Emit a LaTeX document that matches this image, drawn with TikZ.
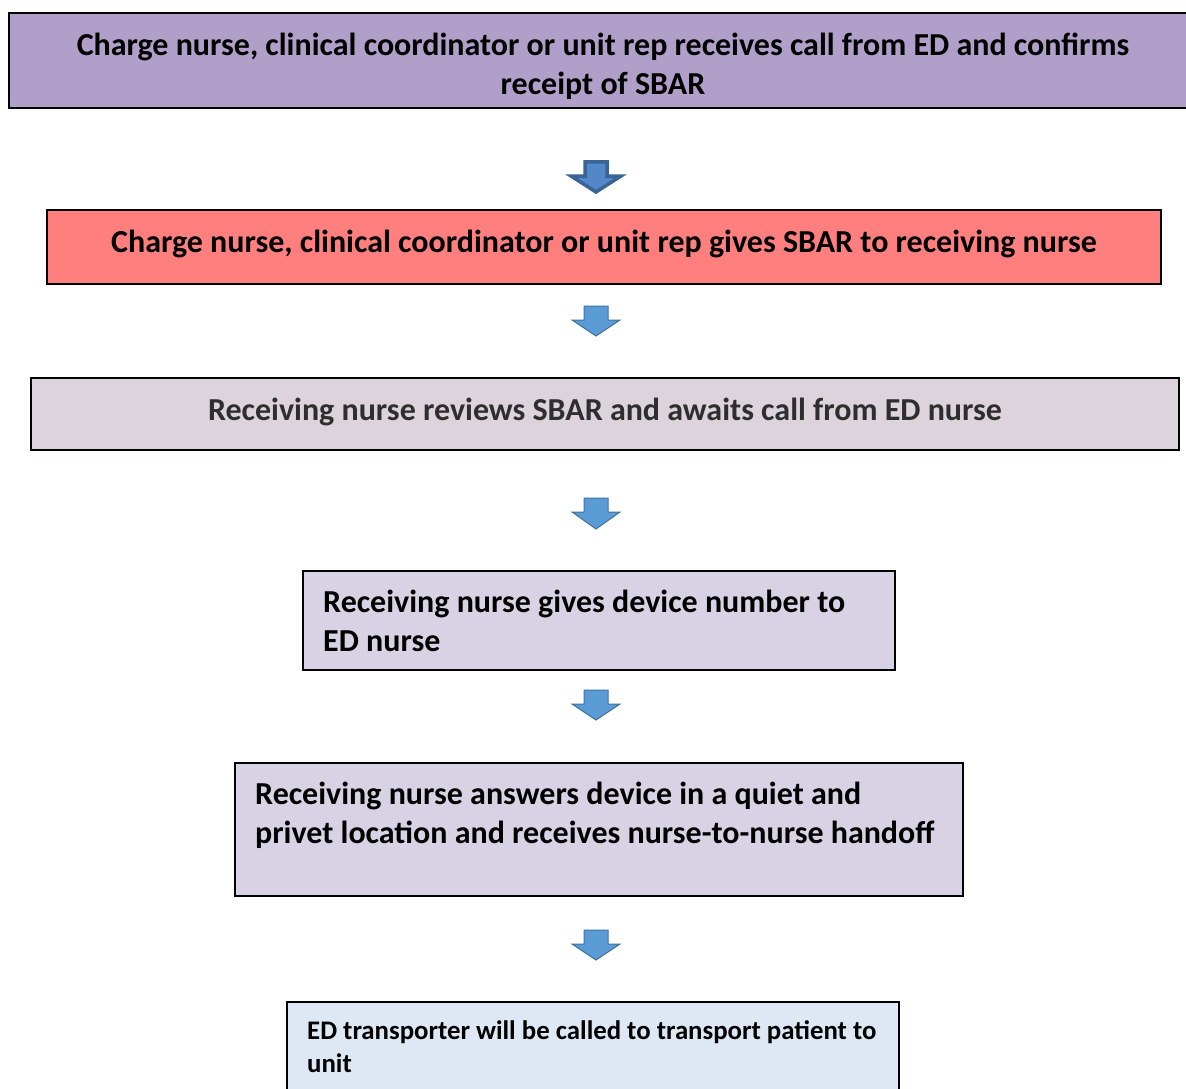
\documentclass[tikz,border=0pt]{standalone}
\usepackage{fontspec}
\setmainfont{Carlito}
\definecolor{boxA}{HTML}{B09FC8}
\definecolor{boxB}{HTML}{FF7F7F}
\definecolor{boxC}{HTML}{DCD3DC}
\definecolor{boxD}{HTML}{D9D2E5}
\definecolor{boxE}{HTML}{DEE8F4}
\definecolor{arrDark}{HTML}{5288C8}
\definecolor{arrDarkE}{HTML}{3B6396}
\definecolor{arrLight}{HTML}{5B9BD5}
\definecolor{arrLightE}{HTML}{41719C}
\definecolor{greytext}{HTML}{2E2E2E}
\tikzset{
  box/.style={draw=black, line width=1.6pt, inner sep=0pt},
  bigtext/.style={font=\bfseries\fontsize{32}{39}\selectfont, inner sep=0pt},
  smalltext/.style={font=\bfseries\fontsize{26.8}{33}\selectfont, inner sep=0pt},
  pics/downarrow/.style args={#1/#2/#3/#4}{
    code={
      % #1 half width, #2 half shaft width, #3 height, #4 shaft length
      \draw[pic actions, miter limit=10] (-#2,0) -- (#2,0) -- (#2,#4) -- (#1,#4) -- (0,#3) -- (-#1,#4) -- (-#2,#4) -- cycle;
    }
  }
}
\begin{document}
\begin{tikzpicture}[x=1pt,y=-1pt]
\useasboundingbox (0,0) rectangle (1186,1089);
% boxes
\draw[box, fill=boxA] (9,13) rectangle (1192,108);
\node[bigtext, align=center, anchor=center] (t1) at (603,66.5) {Charge nurse, clinical coordinator or unit rep receives call from ED and confirms\\receipt of SBAR};
\draw[box, fill=boxB] (47,210) rectangle (1161,284);
\node[bigtext, anchor=center] (t2) at (604,243.5) {Charge nurse, clinical coordinator or unit rep gives SBAR to receiving nurse};
\draw[box, fill=boxC] (31,378) rectangle (1179,450);
\node[bigtext, text=greytext, anchor=center] (t3) at (605,411.5) {Receiving nurse reviews SBAR and awaits call from ED nurse};
\draw[box, fill=boxD] (303,571) rectangle (895,670);
\node[bigtext, align=left, anchor=west] (t4) at (323,620.5) {Receiving nurse gives device number to\\ED nurse};
\draw[box, fill=boxD] (235,763) rectangle (963,896);
\node[bigtext, align=left, anchor=west] (t5) at (255,815.5) {Receiving nurse answers device in a quiet and\\privet location and receives nurse-to-nurse handoff};
\draw[box, fill=boxE] (287,1002) rectangle (899,1100);
\node[smalltext, align=left, anchor=west] (t6) at (307,1047) {ED transporter will be called to transport patient to\\unit};
% arrows
\pic[fill=arrDark, draw=arrDarkE, line width=3.5pt] at (596,162) {downarrow={25/11/30/14}};
\pic[fill=arrLight, draw=arrLightE, line width=1pt] at (596,306) {downarrow={24/12/30/14}};
\pic[fill=arrLight, draw=arrLightE, line width=1pt] at (596,498) {downarrow={24/12/31/14}};
\pic[fill=arrLight, draw=arrLightE, line width=1pt] at (596,690) {downarrow={24/12/30/14}};
\pic[fill=arrLight, draw=arrLightE, line width=1pt] at (596,930) {downarrow={24/12/30/14}};
\end{tikzpicture}
\end{document}
